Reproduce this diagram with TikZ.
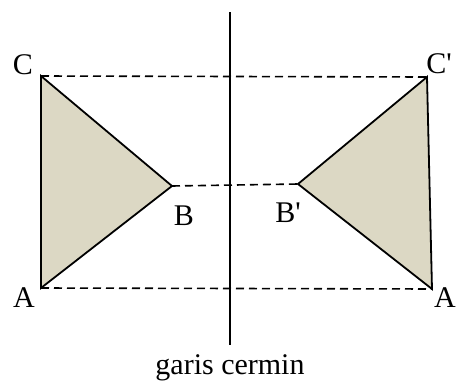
\documentclass[tikz,border=0pt]{standalone}
\usepackage{fontspec}
\setmainfont{Liberation Serif}[Ligatures=TeXOff]
\usepackage{tikz}
\usetikzlibrary{positioning}
\definecolor{shapefill}{RGB}{220,216,196}

\begin{document}
\begin{tikzpicture}[
    x=1pt, y=-1pt,
    triangle/.style={
        draw=black, line width=1.8pt, fill=shapefill, line join=miter
    },
    guide/.style={
        draw=black, line width=1.6pt, dash pattern=on 8pt off 5pt
    },
    mirror/.style={
        draw=black, line width=1.8pt
    },
    vlabel/.style={
        font=\fontsize{30}{31}\selectfont, inner sep=0pt
    }
]
\useasboundingbox (0,0) rectangle (459,381);

% ── Vertices ──
\coordinate (A) at (41,288);
\coordinate (B) at (172,186);
\coordinate (C) at (41,76);
\coordinate (Ar) at (432,289);
\coordinate (Br) at (298,184);
\coordinate (Cr) at (427,77);

% ── Mirror line ──
\coordinate (mtop) at (230,12);
\coordinate (mbot) at (230,345);
\node[vlabel, anchor=base] (mlabel) at (230,374) {garis cermin};

% ── Guide lines ──
\draw[guide] (C) -- (Cr);
\draw[guide] (B) -- (Br);
\draw[guide] (A) -- (Ar);

% ── Triangles ──
\draw[triangle] (A) -- (B) -- (C) -- cycle;
\draw[triangle] (Ar) -- (Br) -- (Cr) -- cycle;

\draw[mirror] (mtop) -- (mbot);

% ── Labels ──
\node[vlabel] (lC) at (23,65) {C};
\node[vlabel] (lB) at (184,216) {B};
\node[vlabel] (lA) at (24,298) {A};
\node[vlabel] (lCr) at (439,64) {C'};
\node[vlabel] (lBr) at (288,213) {B'};
\node[vlabel] (lAr) at (445,298) {A};

\end{tikzpicture}
\end{document}
